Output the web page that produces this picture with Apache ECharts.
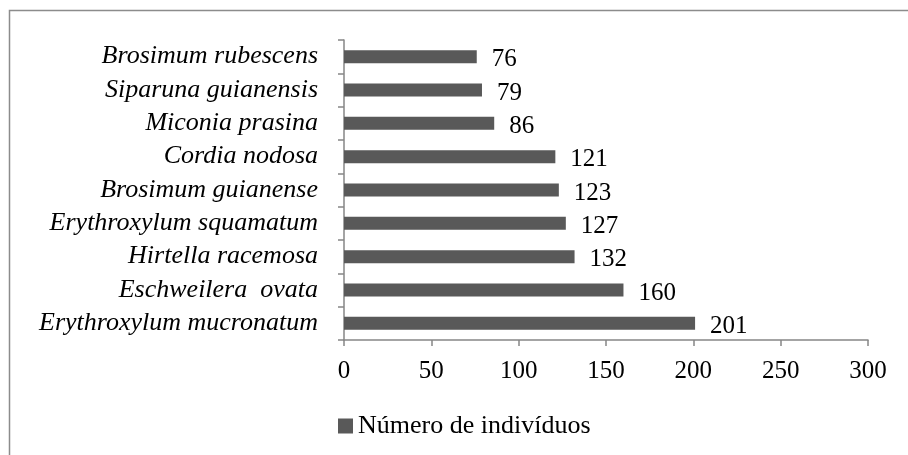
<!DOCTYPE html>
<html>
<head>
<meta charset="utf-8">
<script src="https://cdn.jsdelivr.net/npm/echarts@6/dist/echarts.min.js"></script>
<style>
  html, body { margin: 0; padding: 0; background: #fff; }
  #chart { width: 908px; height: 455px; }
</style>
</head>
<body>
<div id="chart"></div>
<script>
// species, bottom to top
const species = [
  "Erythroxylum mucronatum",
  "Eschweilera  ovata",
  "Hirtella racemosa",
  "Erythroxylum squamatum",
  "Brosimum guianense",
  "Cordia nodosa",
  "Miconia prasina",
  "Siparuna guianensis",
  "Brosimum rubescens",
];
const individuals = [201, 160, 132, 127, 123, 121, 86, 79, 76];
const seriesName = "Número de indivíduos";

const font = "'Liberation Serif', 'Times New Roman', serif";
const axisGray = "#868686";

let chart = echarts.init(document.getElementById("chart"));
let option = {
  animation: false,
  textStyle: { fontFamily: font },
  graphic: [
    {
      type: "rect",
      shape: { x: 9.5, y: 10.5, width: 1000, height: 1000 },
      style: { fill: "none", stroke: "#8c8c8c", lineWidth: 1.5 },
      silent: true,
    },
  ],
  legend: {
    top: 408,
    left: 333,
    itemWidth: 15,
    itemHeight: 15,
    itemGap: 4,
    icon: "rect",
    textStyle: { fontFamily: font, fontSize: 26, color: "#000" },
    data: [seriesName],
  },
  grid: {
    left: 344,
    right: 40,
    top: 40,
    bottom: 115,
  },
  xAxis: {
    type: "value",
    min: 0,
    max: 300,
    interval: 50,
    splitLine: { show: false },
    axisLine: { show: true, lineStyle: { color: axisGray, width: 1.5 } },
    axisTick: { show: true, length: 6, lineStyle: { color: axisGray, width: 1.5 } },
    axisLabel: { color: "#000", fontSize: 25, fontFamily: font, margin: 19 },
  },
  yAxis: {
    type: "category",
    data: species,
    axisLine: { show: true, lineStyle: { color: axisGray, width: 1.5 } },
    axisTick: { show: true, length: 6, lineStyle: { color: axisGray, width: 1.5 } },
    axisLabel: {
      interval: 0,
      color: "#000",
      fontSize: 26,
      fontStyle: "italic",
      fontFamily: font,
      margin: 26,
    },
  },
  series: [
    {
      name: seriesName,
      type: "bar",
      data: individuals,
      barWidth: 13,
      itemStyle: { color: "#595959" },
      label: {
        show: true,
        position: "right",
        distance: 15,
        color: "#000",
        fontSize: 25,
        fontFamily: font,
        offset: [0, 3],
      },
    },
  ],
};
option && chart.setOption(option);
</script>
</body>
</html>
